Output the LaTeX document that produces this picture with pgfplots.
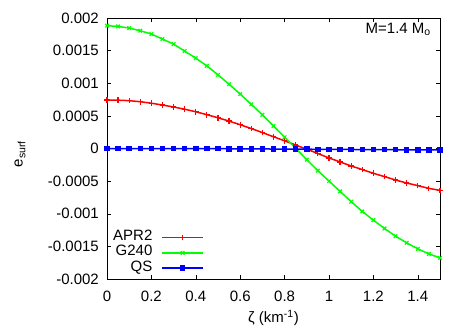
\documentclass[border=0pt]{standalone}
\usepackage{fontspec}
\setmainfont{Liberation Sans}
\usepackage{pgfplots}
\pgfplotsset{compat=1.18}
\definecolor{apr}{HTML}{FF0000}
\definecolor{gtw}{HTML}{00FF00}
\definecolor{qs}{HTML}{0000FF}

\begin{document}
\begin{tikzpicture}[font=\fontsize{15pt}{17pt}\selectfont]
\useasboundingbox (-107pt,-48pt) rectangle (360pt,279pt);
\begin{axis}[
  scale only axis,
  width=333pt, height=261pt,
  xmin=0, xmax=1.5,
  ymin=-0.002, ymax=0.002,
  xtick={0,0.2,0.4,0.6,0.8,1,1.2,1.4},
  xticklabels={0,0.2,0.4,0.6,0.8,1,1.2,1.4},
  ytick={-0.002,-0.0015,-0.001,-0.0005,0,0.0005,0.001,0.0015,0.002},
  yticklabels={-0.002,-0.0015,-0.001,-0.0005,0,0.0005,0.001,0.0015,0.002},
  scaled y ticks=false,
  scaled x ticks=false,
  tick align=inside,
  major tick length=4pt,
  tick style={black, line width=0.5pt},
  axis line style={line width=0.8pt},
  yticklabel style={inner sep=0pt, xshift=-8pt},
  xticklabel style={inner sep=0pt, yshift=-12pt},
  every axis x label/.style={at={(axis description cs:0.5,-0.149)}, anchor=center},
  every axis y label/.style={at={(axis description cs:-0.2613,0.479)}, anchor=center, rotate=90},
  xlabel={ζ (km\textsuperscript{-1})},
  ylabel={e\textsubscript{surf}},
  legend plot pos=right,
  legend cell align=right,
  legend style={draw=none, fill=none, at={(0.291,0.188)}, anchor=north east,
    inner sep=0pt, outer sep=0pt, row sep=0pt, column sep=9pt,
    nodes={inner sep=0pt, text height=10.5pt, text depth=4.8pt}},
  legend image code/.code={\draw[mark repeat=2, mark phase=2]
    plot coordinates {(0pt,0pt) (20.5pt,0pt) (41pt,0pt)};},
]
\addplot[color=apr, line width=1.5pt, mark=+, mark size=2.8pt, mark options={line width=1.2pt}] coordinates {
  (0,0.000743) (0.05,0.000741) (0.1,0.000733) (0.15,0.000717) (0.2,0.000694)
  (0.25,0.000666) (0.3,0.000636) (0.35,0.000602) (0.4,0.000563) (0.45,0.000518)
  (0.5,0.000471) (0.55,0.000420) (0.6,0.000364) (0.65,0.000306) (0.7,0.000244)
  (0.75,0.000180) (0.8,0.000118) (0.85,0.000053) (0.9,-0.000011) (0.95,-0.000077)
  (1.0,-0.000145) (1.05,-0.000206) (1.1,-0.000268) (1.15,-0.000323) (1.2,-0.000380)
  (1.25,-0.000431) (1.3,-0.000483) (1.35,-0.000529) (1.4,-0.000569) (1.45,-0.000611)
  (1.5,-0.000642)
};
\addlegendentry{APR2}
\addplot[color=gtw, line width=1.5pt, mark=x, mark size=2.5pt, mark options={line width=1.2pt}] coordinates {
  (0,0.001882) (0.05,0.001871) (0.1,0.001846) (0.15,0.001805) (0.2,0.001754)
  (0.25,0.001677) (0.3,0.001600) (0.35,0.001492) (0.4,0.001385) (0.45,0.001266)
  (0.5,0.001128) (0.55,0.000985) (0.6,0.000835) (0.65,0.000677) (0.7,0.000515)
  (0.75,0.000345) (0.8,0.000172) (0.85,0.000003) (0.9,-0.000172) (0.95,-0.000340)
  (1.0,-0.000500) (1.05,-0.000657) (1.1,-0.000815) (1.15,-0.000965) (1.2,-0.001098)
  (1.25,-0.001226) (1.3,-0.001344) (1.35,-0.001446) (1.4,-0.001538) (1.45,-0.001615)
  (1.5,-0.001677)
};
\addlegendentry{G240}
\addplot[color=qs, line width=1.5pt, mark=square*, mark size=2pt] coordinates {
  (0,0) (0.05,0) (0.1,0) (0.15,0) (0.2,0) (0.25,0) (0.3,-0.000001)
  (0.35,-0.000001) (0.4,-0.000002) (0.45,-0.000002) (0.5,-0.000003) (0.55,-0.000004)
  (0.6,-0.000005) (0.65,-0.000006) (0.7,-0.000007) (0.75,-0.000008) (0.8,-0.000009)
  (0.85,-0.000010) (0.9,-0.000011) (0.95,-0.000012) (1.0,-0.000013) (1.05,-0.000014)
  (1.1,-0.000015) (1.15,-0.000016) (1.2,-0.000017) (1.25,-0.000018) (1.3,-0.000019)
  (1.35,-0.000020) (1.4,-0.000021) (1.45,-0.000022) (1.5,-0.000023)
};
\addlegendentry{QS}
\node[anchor=base east, inner sep=0pt] at (rel axis cs:0.973,0.9425) {M=1.4 M\textsubscript{o}};
\end{axis}
\end{tikzpicture}
\end{document}
